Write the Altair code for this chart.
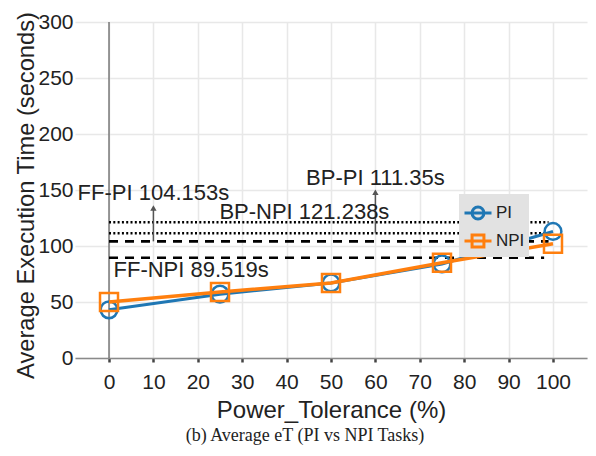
import altair as alt
import pandas as pd

# ---- data ----
tolerance = [0, 25, 50, 75, 100]
pi_times = [43, 57, 67, 84, 113]
npi_times = [50, 59, 67, 85, 102]

ref_names = ["BP-NPI", "BP-PI", "FF-PI", "FF-NPI"]
ref_values = [121.238, 111.35, 104.153, 89.519]
ref_styles = ["dotted", "dotted", "dashed", "dashed"]
ref_x_end = [99, 99, 99, 98]

ann_texts = ["FF-PI 104.153s", "BP-PI 111.35s", "BP-NPI 121.238s", "FF-NPI 89.519s"]
ann_x = [10, 60, 44, 18.5]
ann_y = [147, 161, 130, 78.6]

arrow_x = [10, 60]
arrow_from = [104.153, 111.35]
arrow_to = [134, 148]

x_ticks = list(range(0, 101, 10))
y_ticks = list(range(0, 301, 50))

FONT = "Liberation Sans"
XDOM = [-7.66, 107.66]
YDOM = [0, 300]

xs = alt.Scale(domain=XDOM, nice=False, zero=False)
ys = alt.Scale(domain=YDOM, nice=False, zero=False)

pi_df = pd.DataFrame({"x": tolerance, "y": pi_times})
npi_df = pd.DataFrame({"x": tolerance, "y": npi_times})
ref_df = pd.DataFrame({"name": ref_names, "y": ref_values, "style": ref_styles,
                       "x0": [0] * 4, "x1": ref_x_end})
ann_df = pd.DataFrame({"t": ann_texts, "x": ann_x, "y": ann_y})
arr_df = pd.DataFrame({"x": arrow_x, "y0": arrow_from, "y1": arrow_to})
zero_df = pd.DataFrame({"x": [0], "y0": [0], "y1": [300]})

x_axis = alt.Axis(values=x_ticks, title="Power_Tolerance (%)", grid=True,
                  gridColor="#e8e8e8", gridWidth=1.5,
                  domainColor="#8a8a8a", domainWidth=1.5,
                  tickColor="#444", tickSize=4, tickWidth=2.5,
                  labelFont=FONT, labelFontSize=21, labelColor="#222", labelPadding=9,
                  titleFont=FONT, titleFontSize=24, titleFontWeight="normal",
                  titleColor="#222", titlePadding=6)
y_axis = alt.Axis(values=y_ticks, title="Average Execution Time (seconds)", grid=True,
                  gridColor="#e8e8e8", gridWidth=1.5, domain=False, ticks=False,
                  labelFont=FONT, labelFontSize=21, labelColor="#222", labelPadding=2,
                  titleFont=FONT, titleFontSize=23.7, titleFontWeight="normal",
                  titleColor="#222", titleX=-42, titleY=173,
                  titleBaseline="alphabetic", titleAlign="center", titleAngle=270)

zero_line = alt.Chart(zero_df).mark_rule(color="#666", strokeWidth=1.3).encode(
    x=alt.X("x:Q", scale=xs, axis=x_axis), y=alt.Y("y0:Q", scale=ys, axis=y_axis), y2="y1:Q")

dotted = alt.Chart(ref_df).transform_filter(alt.datum.style == "dotted").mark_rule(
    color="black", strokeWidth=2.6, strokeDash=[2, 2.3]).encode(
    x=alt.X("x0:Q", scale=xs), x2="x1:Q", y=alt.Y("y:Q", scale=ys))
dashed = alt.Chart(ref_df).transform_filter(alt.datum.style == "dashed").mark_rule(
    color="black", strokeWidth=2.6, strokeDash=[9, 7]).encode(
    x=alt.X("x0:Q", scale=xs), x2="x1:Q", y=alt.Y("y:Q", scale=ys))

arrow_shaft = alt.Chart(arr_df).mark_rule(color="#555", strokeWidth=1.5).encode(
    x=alt.X("x:Q", scale=xs), y=alt.Y("y0:Q", scale=ys), y2="y1:Q")
arrow_head = alt.Chart(arr_df).mark_point(shape="triangle-up", filled=True, color="#555",
                                          size=40, opacity=1).encode(
    x=alt.X("x:Q", scale=xs), y=alt.Y("y1:Q", scale=ys))

ann = alt.Chart(ann_df).mark_text(font=FONT, fontSize=22, color="#222",
                                  align="center", baseline="middle").encode(
    x=alt.X("x:Q", scale=xs), y=alt.Y("y:Q", scale=ys), text="t:N")

pi_line = alt.Chart(pi_df).mark_line(color="#1f77b4", strokeWidth=3).encode(
    x=alt.X("x:Q", scale=xs), y=alt.Y("y:Q", scale=ys))
pi_pts = alt.Chart(pi_df).mark_point(shape="circle", filled=False, color="#1f77b4",
                                     size=280, strokeWidth=2.5, opacity=1).encode(
    x=alt.X("x:Q", scale=xs), y=alt.Y("y:Q", scale=ys))
npi_line = alt.Chart(npi_df).mark_line(color="#ff7f0e", strokeWidth=3.5).encode(
    x=alt.X("x:Q", scale=xs), y=alt.Y("y:Q", scale=ys))
npi_pts = alt.Chart(npi_df).mark_point(shape="square", filled=False, color="#ff7f0e",
                                       size=324, strokeWidth=2.5, opacity=1).encode(
    x=alt.X("x:Q", scale=xs), y=alt.Y("y:Q", scale=ys))

# legend layer (points clipped away; only drives the legend)
leg_df = pd.DataFrame({"series": ["PI", "NPI"], "x": [-50, -50], "y": [-50, -50]})
circ_path = ("M-1,0L-0.44,0M0.44,0L1,0M-0.44,0A0.44,0.44 0 1 1 0.44,0"
             "A0.44,0.44 0 1 1 -0.44,0M-0.44,0L0.44,0")
sq_path = "M-1,0L1,0M-0.44,-0.44L0.44,-0.44L0.44,0.44L-0.44,0.44Z"
leg = alt.Legend(title=None, orient="none", legendX=384, legendY=172,
                 fillColor="#e2e2e2", padding=4, symbolSize=729,
                 symbolStrokeWidth=3, labelFont=FONT,
                 labelFontSize=17, labelColor="#222",
                 labelOffset=3, rowPadding=1, symbolOpacity=1)
legend_layer = alt.Chart(leg_df).mark_point(filled=False, clip=True, strokeWidth=3,
                                            opacity=1).encode(
    x=alt.X("x:Q", scale=xs), y=alt.Y("y:Q", scale=ys),
    color=alt.Color("series:N",
                    scale=alt.Scale(domain=["PI", "NPI"], range=["#1f77b4", "#ff7f0e"]),
                    legend=leg),
    shape=alt.Shape("series:N", scale=alt.Scale(domain=["PI", "NPI"],
                                                range=[circ_path, sq_path]),
                    legend=leg),
)

chart = alt.layer(
    zero_line, dotted, dashed, arrow_shaft, arrow_head, ann,
    pi_line, pi_pts, npi_line, npi_pts, legend_layer
).properties(
    width=512, height=336,
    title=alt.TitleParams("(b) Average eT (PI vs NPI Tasks)", orient="bottom",
                          font="Liberation Serif", fontSize=18, fontWeight="normal",
                          color="#222", offset=5, anchor="middle", dx=-26),
    autosize=alt.AutoSizeParams(type="none"),
    padding={"left": 67, "top": 14, "right": 1, "bottom": 90},
).configure_view(stroke=None)

chart.save("out.html", embed_options={"renderer": "svg", "actions": False})
